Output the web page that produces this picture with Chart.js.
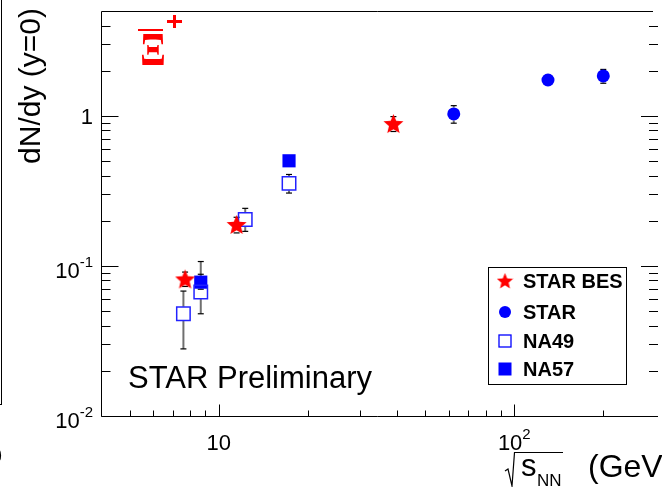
<!DOCTYPE html>
<html>
<head>
<meta charset="utf-8">
<script src="https://cdn.jsdelivr.net/npm/chart.js@4.4.1/dist/chart.umd.min.js"></script>
<style>
  html, body { margin: 0; padding: 0; background: #fff; }
  #wrap { width: 662px; height: 487px; }
</style>
</head>
<body>
<div id="wrap"><canvas id="chart" width="662" height="487"></canvas></div>
<script>
// sqrt(s_NN) in GeV, dN/dy at y=0, and the lower / upper ends of the error bars
const besEnergy = [7.7, 11.5, 39];
const besYield = [0.082, 0.189, 0.889];
const besLow = [0.073, 0.166, 0.787];
const besHigh = [0.091, 0.211, 0.989];

const starEnergy = [62.4, 130, 200];
const starYield = [1.03, 1.735, 1.845];
const starLow = [0.894, 1.65, 1.65];
const starHigh = [1.17, 1.82, 2.04];

const na49Energy = [7.6, 8.7, 12.3, 17.3];
const na49Yield = [0.048, 0.067, 0.204, 0.355];
const na49Low = [0.028, 0.048, 0.17, 0.306];
const na49High = [0.068, 0.107, 0.242, 0.407];

const na57Energy = [8.7, 17.3];
const na57Yield = [0.078, 0.502];
const na57Low = [0.070, 0.48];
const na57High = [0.088, 0.525];

const seriesNames = ['STAR BES', 'STAR', 'NA49', 'NA57'];

const xMajorTicks = [10, 100];
const xMinorTicks = [5, 6, 7, 8, 9, 20, 30, 40, 50, 60, 70, 80, 90, 200];
const xTickLabels = [['10', ''], ['10', '2']];
const yMajorTicks = [0.01, 0.1, 1];
const yMinorTicks = [0.02, 0.03, 0.04, 0.05, 0.06, 0.07, 0.08, 0.09,
                     0.2, 0.3, 0.4, 0.5, 0.6, 0.7, 0.8, 0.9, 2, 3, 4];
const yTickLabels = [['10', '-2'], ['10', '-1'], ['1', '']];

const RED = '#ff0000';
const BLUE = '#0000ff';
const SANS = '"Liberation Sans", Arial, Helvetica, sans-serif';

function starImage(size, color) {
    const c = document.createElement('canvas');
    c.width = size; c.height = size;
    const g = c.getContext('2d');
    const R = size / 2, r = R * 0.45;
    g.fillStyle = color;
    g.beginPath();
    for (let i = 0; i < 10; i++) {
        const a = -Math.PI / 2 + i * Math.PI / 5;
        const rr = i % 2 ? r : R;
        g.lineTo(R + rr * Math.cos(a), R + 1 + rr * Math.sin(a));
    }
    g.closePath();
    g.fill();
    return c;
}

const starBig = starImage(21, RED);
const starSmall = starImage(17, RED);

function points(xs, ys) {
    return xs.map(function (x, i) { return { x: x, y: ys[i] }; });
}

function drawSup(ctx, base, sup, x, baseY, align, bigFont, smallFont, rise) {
    ctx.font = bigFont;
    const wb = ctx.measureText(base).width;
    ctx.font = smallFont;
    const ws = sup ? ctx.measureText(sup).width : 0;
    const total = wb + ws;
    let x0 = x;
    if (align === 'right') x0 = x - total;
    if (align === 'center') x0 = x - total / 2;
    ctx.textAlign = 'left';
    ctx.textBaseline = 'alphabetic';
    ctx.font = bigFont;
    ctx.fillText(base, x0, baseY);
    if (sup) {
        ctx.font = smallFont;
        ctx.fillText(sup, x0 + wb, baseY - rise);
    }
}

function line(ctx, x1, y1, x2, y2) {
    ctx.beginPath();
    ctx.moveTo(x1, y1);
    ctx.lineTo(x2, y2);
    ctx.stroke();
}

// ROOT-like frame, error bars, labels and legend
const rootStyle = {
    id: 'rootStyle',
    beforeDatasetsDraw(chart) {
        const ctx = chart.ctx, xs = chart.scales.x, ys = chart.scales.y;
        ctx.save();
        chart.data.datasets.forEach(function (ds) {
            const gap = ds.markHalf;
            ds.data.forEach(function (p, i) {
                const px = xs.getPixelForValue(p.x);
                const py = ys.getPixelForValue(p.y);
                const top = ys.getPixelForValue(ds.high[i]);
                const bot = ys.getPixelForValue(ds.low[i]);
                ctx.strokeStyle = '#707070';
                ctx.lineWidth = 2;
                if (top < py - gap) line(ctx, px, py - gap, px, top);
                if (bot > py + gap) line(ctx, px, py + gap, px, bot);
                ctx.strokeStyle = '#000';
                ctx.lineWidth = 1.2;
                line(ctx, px - 3, top, px + 3, top);
                line(ctx, px - 3, bot, px + 3, bot);
            });
        });
        ctx.restore();
    },
    afterDatasetsDraw(chart) {
        const ctx = chart.ctx, a = chart.chartArea;
        const xs = chart.scales.x, ys = chart.scales.y;
        ctx.save();
        ctx.strokeStyle = '#000';
        ctx.fillStyle = '#000';
        ctx.lineWidth = 1;

        const L = Math.round(a.left) + 0.5, B = Math.round(a.bottom) + 0.5, T = Math.round(a.top) + 0.5;
        const Rx = a.right + 7;
        line(ctx, L, T, a.right + 2, T);
        line(ctx, L, T, L, B);
        line(ctx, L, B, a.right + 2, B);

        // x ticks (inside)
        xMajorTicks.forEach(function (v) { const p = Math.round(xs.getPixelForValue(v)) + 0.5; line(ctx, p, B, p, B - 12); });
        xMinorTicks.forEach(function (v) { const p = Math.round(xs.getPixelForValue(v)) + 0.5; line(ctx, p, B, p, B - 6); });
        // y ticks, left and right
        yMajorTicks.forEach(function (v) {
            const p = Math.round(ys.getPixelForValue(v)) + 0.5;
            line(ctx, L, p, L + 17, p);
            line(ctx, Rx, p, Rx - 17, p);
        });
        yMinorTicks.forEach(function (v) {
            const p = Math.round(ys.getPixelForValue(v)) + 0.5;
            line(ctx, L, p, L + 9, p);
            line(ctx, Rx, p, Rx - 9, p);
        });

        // tick labels
        const big = '22px ' + SANS, small = '15px ' + SANS;
        xMajorTicks.forEach(function (v, i) {
            const lab = xTickLabels[i];
            drawSup(ctx, lab[0], lab[1], xs.getPixelForValue(v), 450, 'center', big, small, 11);
        });
        yMajorTicks.forEach(function (v, i) {
            const lab = yTickLabels[i];
            const p = ys.getPixelForValue(v);
            drawSup(ctx, lab[0], lab[1], 93, p + (lab[1] ? 12 : 8), 'right', big, small, 11);
        });

        // axis titles
        ctx.save();
        ctx.translate(40, 8);
        ctx.rotate(-Math.PI / 2);
        ctx.font = '30px ' + SANS;
        ctx.textAlign = 'right';
        ctx.fillText('dN/dy (y=0)', 0, 0);
        ctx.restore();

        ctx.lineWidth = 1.2;
        ctx.beginPath();
        ctx.moveTo(505, 471);
        ctx.lineTo(508, 469);
        ctx.lineTo(512, 486);
        ctx.lineTo(514.5, 452.5);
        ctx.lineTo(563, 452.5);
        ctx.stroke();
        ctx.textAlign = 'left';
        ctx.font = '31px ' + SANS;
        ctx.fillText('s', 521, 476);
        ctx.font = '17px ' + SANS;
        ctx.fillText('NN', 537, 486);
        ctx.font = '32px ' + SANS;
        ctx.fillText('(GeV)', 588, 477);

        // watermark
        ctx.font = '31px ' + SANS;
        ctx.fillText('STAR Preliminary', 128, 388);

        // particle label
        ctx.fillStyle = RED;
        ctx.strokeStyle = RED;
        ctx.save();
        ctx.translate(153, 65);
        ctx.scale(0.8, 1);
        ctx.font = 'bold 47px "Liberation Serif", "Times New Roman", serif';
        ctx.textAlign = 'center';
        ctx.fillText('\u039E', 0, 0);
        ctx.restore();
        ctx.lineWidth = 2;
        line(ctx, 138, 30, 163, 30);
        ctx.lineWidth = 3;
        line(ctx, 167, 21.5, 182, 21.5);
        line(ctx, 174.5, 15, 174.5, 28);

        // legend
        ctx.fillStyle = '#fff';
        ctx.fillRect(488, 267, 139, 118);
        ctx.strokeStyle = '#000';
        ctx.lineWidth = 1;
        ctx.strokeRect(488.5, 267.5, 138, 117);
        const rows = [281, 312, 341, 369];
        const mx = 505;
        ctx.drawImage(starSmall, mx - 8.5, rows[0] - 9);
        ctx.fillStyle = BLUE;
        ctx.beginPath(); ctx.arc(mx, rows[1], 6, 0, Math.PI * 2); ctx.fill();
        ctx.strokeStyle = BLUE;
        ctx.lineWidth = 1.3;
        ctx.strokeRect(mx - 6, rows[2] - 6, 12, 12);
        ctx.fillRect(mx - 6.5, rows[3] - 6.5, 13, 13);
        ctx.fillStyle = '#000';
        ctx.font = 'bold 20px ' + SANS;
        ctx.textBaseline = 'middle';
        seriesNames.forEach(function (n, i) { ctx.fillText(n, 523, rows[i] + 1); });
        ctx.textBaseline = 'alphabetic';

        // edge of the neighbouring panel
        ctx.strokeStyle = '#000';
        ctx.lineWidth = 1;
        line(ctx, 1.5, 0, 1.5, 405);
        line(ctx, 0, 404.5, 2, 404.5);
        ctx.font = '22px ' + SANS;
        ctx.textAlign = 'right';
        ctx.fillText('0', 2, 463);
        ctx.restore();
    }
};

new Chart(document.getElementById('chart'), {
    type: 'scatter',
    data: {
        datasets: [
            {
                label: seriesNames[0], data: points(besEnergy, besYield),
                low: besLow, high: besHigh, markHalf: 9,
                pointStyle: starBig, pointRadius: 10,
                backgroundColor: RED, borderColor: RED
            },
            {
                label: seriesNames[1], data: points(starEnergy, starYield),
                low: starLow, high: starHigh, markHalf: 6.5,
                pointStyle: 'circle', pointRadius: 6.5, borderWidth: 0,
                backgroundColor: BLUE, borderColor: BLUE
            },
            {
                label: seriesNames[2], data: points(na49Energy, na49Yield),
                low: na49Low, high: na49High, markHalf: 7,
                pointStyle: 'rect', pointRadius: 9.5, borderWidth: 1.5,
                backgroundColor: 'rgba(0,0,0,0)', borderColor: '#2222ff'
            },
            {
                label: seriesNames[3], data: points(na57Energy, na57Yield),
                low: na57Low, high: na57High, markHalf: 6.5,
                pointStyle: 'rect', pointRadius: 9.3, borderWidth: 0,
                backgroundColor: BLUE, borderColor: BLUE
            }
        ]
    },
    options: {
        responsive: false,
        animation: false,
        devicePixelRatio: 1,
        layout: { padding: { top: 9, right: 0, bottom: 0, left: 0 } },
        plugins: { legend: { display: false }, tooltip: { enabled: false } },
        scales: {
            x: {
                type: 'logarithmic', min: 4, max: 290,
                ticks: { display: false }, grid: { display: false }, border: { display: false },
                afterFit: function (s) { s.height = 71; }
            },
            y: {
                type: 'logarithmic', min: 0.01, max: 5,
                ticks: { display: false }, grid: { display: false }, border: { display: false },
                afterFit: function (s) { s.width = 101; }
            }
        }
    },
    plugins: [rootStyle]
});
</script>
</body>
</html>
